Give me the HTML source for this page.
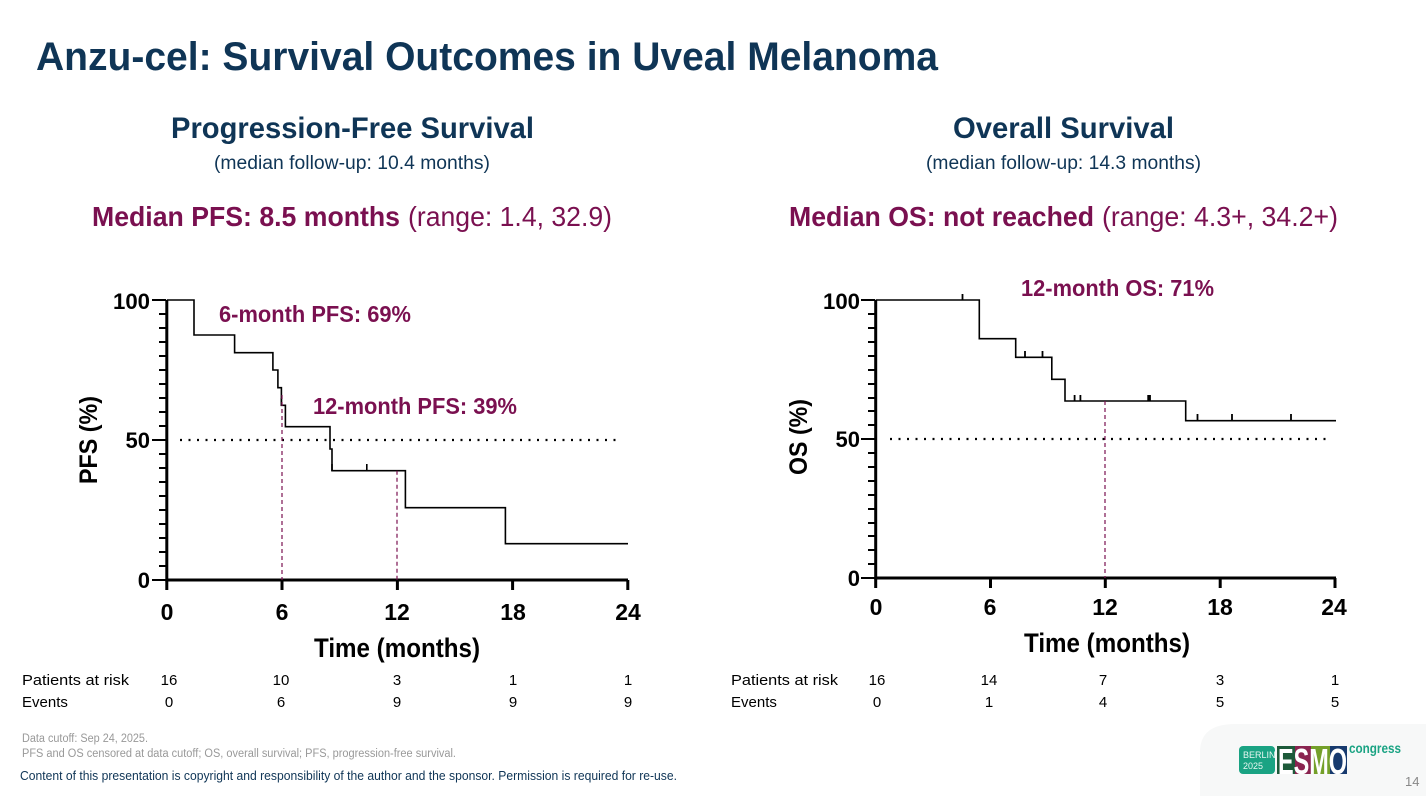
<!DOCTYPE html>
<html><head><meta charset="utf-8"><style>
html,body{margin:0;padding:0;background:#fff;width:1426px;height:796px;overflow:hidden}
svg{display:block}
.n{font-family:"Liberation Sans Narrow","Liberation Sans",sans-serif}
</style></head><body>
<svg width="1426" height="796" viewBox="0 0 1426 796" xmlns="http://www.w3.org/2000/svg" font-family="Liberation Sans, sans-serif">
<rect width="1426" height="796" fill="#fff"/>
<text x="36" y="70" font-size="40" font-weight="bold" fill="#0f3556" textLength="902" lengthAdjust="spacingAndGlyphs">Anzu-cel: Survival Outcomes in Uveal Melanoma</text>

<text x="171" y="138" font-size="30" font-weight="bold" fill="#0f3556" textLength="363" lengthAdjust="spacingAndGlyphs">Progression-Free Survival</text>
<text x="214" y="169" font-size="19" fill="#0f3556" textLength="276" lengthAdjust="spacingAndGlyphs">(median follow-up: 10.4 months)</text>
<text x="92" y="226" font-size="28" font-weight="bold" fill="#7a1050" textLength="308" lengthAdjust="spacingAndGlyphs">Median PFS: 8.5 months</text>
<text x="408" y="226" font-size="28" fill="#7a1050" textLength="204" lengthAdjust="spacingAndGlyphs">(range: 1.4, 32.9)</text>

<text x="953" y="138" font-size="30" font-weight="bold" fill="#0f3556" textLength="221" lengthAdjust="spacingAndGlyphs">Overall Survival</text>
<text x="926" y="169" font-size="19" fill="#0f3556" textLength="275" lengthAdjust="spacingAndGlyphs">(median follow-up: 14.3 months)</text>
<text x="789" y="226" font-size="28" font-weight="bold" fill="#7a1050" textLength="305" lengthAdjust="spacingAndGlyphs">Median OS: not reached</text>
<text x="1102" y="226" font-size="28" fill="#7a1050" textLength="236" lengthAdjust="spacingAndGlyphs">(range: 4.3+, 34.2+)</text>

<!-- PFS chart -->
<g stroke="#000" fill="none">
<path d="M166.8,300 V580 H628" stroke-width="3"/>
<g stroke-width="2">
<path d="M159,300H166M159,314H166M159,328H166M159,342H166M159,356H166M159,370H166M159,384H166M159,398H166M159,412H166M159,426H166M159,440H166M159,454H166M159,468H166M159,482H166M159,496H166M159,510H166M159,524H166M159,538H166M159,552H166M159,566H166M152,580H166M152,440H166M152,300H166"/>
<path d="M166.8,580V590M282,580V590M397.4,580V590M512.6,580V590M627.8,580V590" stroke-width="3"/>
</g>
<path d="M166.8,300H194V335H234.6V352.7H272.9V370H277.9V387.7H281.4V405.3H285.4V426.7H330V449H332V470.7H405.4V507.7H505.4V543.7H628" stroke-width="1.6"/>
<path d="M281.4,398V406M332,464V471M366.8,464V471" stroke-width="1.6"/>
<path d="M180,440H622" stroke-width="2.2" stroke-dasharray="2,6.5"/>
<path d="M282,395V580M397,470.7V580" stroke="#7a1050" stroke-width="1.2" stroke-dasharray="4,3"/>
</g>
<g font-size="22" font-weight="bold" fill="#000" text-anchor="end">
<text x="150" y="309" textLength="37" lengthAdjust="spacingAndGlyphs">100</text>
<text x="150" y="448">50</text>
<text x="150" y="588">0</text>
</g>
<g font-size="23" font-weight="bold" fill="#000" text-anchor="middle">
<text x="167" y="620">0</text><text x="282" y="620">6</text><text x="397" y="620">12</text><text x="513" y="620">18</text><text x="628" y="620">24</text>
</g>
<text x="397" y="657" font-size="27" font-weight="bold" text-anchor="middle" textLength="166" lengthAdjust="spacingAndGlyphs">Time (months)</text>
<text transform="translate(97,440) rotate(-90)" font-size="25" font-weight="bold" text-anchor="middle" textLength="88" lengthAdjust="spacingAndGlyphs">PFS (%)</text>
<g font-size="23" font-weight="bold" fill="#7a1050">
<text x="219" y="322" textLength="192" lengthAdjust="spacingAndGlyphs">6-month PFS: 69%</text>
<text x="313" y="414" textLength="204" lengthAdjust="spacingAndGlyphs">12-month PFS: 39%</text>
</g>

<!-- OS chart -->
<g stroke="#000" fill="none">
<path d="M875.7,300 V578 H1336" stroke-width="3"/>
<g stroke-width="2">
<path d="M868,300H875M868,314H875M868,328H875M868,342H875M868,356H875M868,370H875M868,384H875M868,398H875M868,411H875M868,425H875M868,439H875M868,453H875M868,467H875M868,481H875M868,495H875M868,509H875M868,523H875M868,536H875M868,550H875M868,564H875M861,578H875M861,439H875M861,300H875"/>
<path d="M875.7,578V588M990.5,578V588M1105.3,578V588M1220.2,578V588M1335,578V588" stroke-width="3"/>
</g>
<path d="M875.7,300H979.3V338.7H1015.7V357.3H1051.8V379.3H1065V401H1185.7V420.7H1336" stroke-width="1.6"/>
<path d="M962.5,294V300M1025,351V357M1042.5,351V357M1074.6,395V401M1080.4,395V401M1148.2,395V401M1150,395V401M1197.5,414V421M1232,414V421M1291,414V421" stroke-width="1.8"/>
<path d="M890,439H1330" stroke-width="2.2" stroke-dasharray="2,6.5"/>
<path d="M1105,401V578" stroke="#7a1050" stroke-width="1.2" stroke-dasharray="4,3"/>
</g>
<g font-size="22" font-weight="bold" fill="#000" text-anchor="end">
<text x="860" y="309" textLength="37" lengthAdjust="spacingAndGlyphs">100</text>
<text x="860" y="447">50</text>
<text x="860" y="586">0</text>
</g>
<g font-size="23" font-weight="bold" fill="#000" text-anchor="middle">
<text x="876" y="615">0</text><text x="990" y="615">6</text><text x="1105" y="615">12</text><text x="1220" y="615">18</text><text x="1334" y="615">24</text>
</g>
<text x="1107" y="652" font-size="27" font-weight="bold" text-anchor="middle" textLength="166" lengthAdjust="spacingAndGlyphs">Time (months)</text>
<text transform="translate(807,437) rotate(-90)" font-size="25" font-weight="bold" text-anchor="middle" textLength="76" lengthAdjust="spacingAndGlyphs">OS (%)</text>
<text x="1021" y="296" font-size="23" font-weight="bold" fill="#7a1050" textLength="193" lengthAdjust="spacingAndGlyphs">12-month OS: 71%</text>

<!-- risk tables -->
<g font-size="15" fill="#000">
<text x="22" y="685" textLength="107" lengthAdjust="spacingAndGlyphs">Patients at risk</text>
<text x="22" y="707">Events</text>
<g text-anchor="middle">
<text x="169" y="685">16</text><text x="281" y="685">10</text><text x="397" y="685">3</text><text x="513" y="685">1</text><text x="628" y="685">1</text>
<text x="169" y="707">0</text><text x="281" y="707">6</text><text x="397" y="707">9</text><text x="513" y="707">9</text><text x="628" y="707">9</text>
</g>
<text x="731" y="685" textLength="107" lengthAdjust="spacingAndGlyphs">Patients at risk</text>
<text x="731" y="707">Events</text>
<g text-anchor="middle">
<text x="877" y="685">16</text><text x="989" y="685">14</text><text x="1103" y="685">7</text><text x="1220" y="685">3</text><text x="1335" y="685">1</text>
<text x="877" y="707">0</text><text x="989" y="707">1</text><text x="1103" y="707">4</text><text x="1220" y="707">5</text><text x="1335" y="707">5</text>
</g>
</g>

<g font-size="11.5" fill="#999">
<text x="22" y="742" textLength="126" lengthAdjust="spacingAndGlyphs">Data cutoff: Sep 24, 2025.</text>
<text x="22" y="757" textLength="434" lengthAdjust="spacingAndGlyphs">PFS and OS censored at data cutoff; OS, overall survival; PFS, progression-free survival.</text>
</g>
<text x="20" y="780" font-size="12.5" fill="#0f3556" textLength="657" lengthAdjust="spacingAndGlyphs">Content of this presentation is copyright and responsibility of the author and the sponsor. Permission is required for re-use.</text>

<!-- logo -->
<path d="M1200,796 V752 Q1200,724 1235,724 H1426 V796Z" fill="#f7f8f8"/>
<rect x="1239" y="746" width="36" height="28" rx="4" fill="#1aa383"/>
<text x="1243" y="758" font-size="9" fill="#e8f7f2">BERLIN</text>
<text x="1243" y="769" font-size="9" fill="#e8f7f2">2025</text>
<g font-size="36" font-weight="bold">
<rect x="1277" y="746" width="18" height="28" fill="#1d5a3a"/>
<rect x="1295" y="746" width="16" height="28" fill="#8a2450"/>
<rect x="1311" y="746" width="19" height="28" fill="#74a02a"/>
<rect x="1330" y="746" width="17" height="28" fill="#173a6e"/>
<text x="1278" y="774" fill="#fff" textLength="69" lengthAdjust="spacingAndGlyphs">ESMO</text>
</g>
<text x="1349" y="753" font-size="14" font-weight="bold" fill="#1aa383" textLength="52" lengthAdjust="spacingAndGlyphs">congress</text>
<text x="1405" y="786" font-size="13" fill="#888">14</text>
</svg>
</body></html>
